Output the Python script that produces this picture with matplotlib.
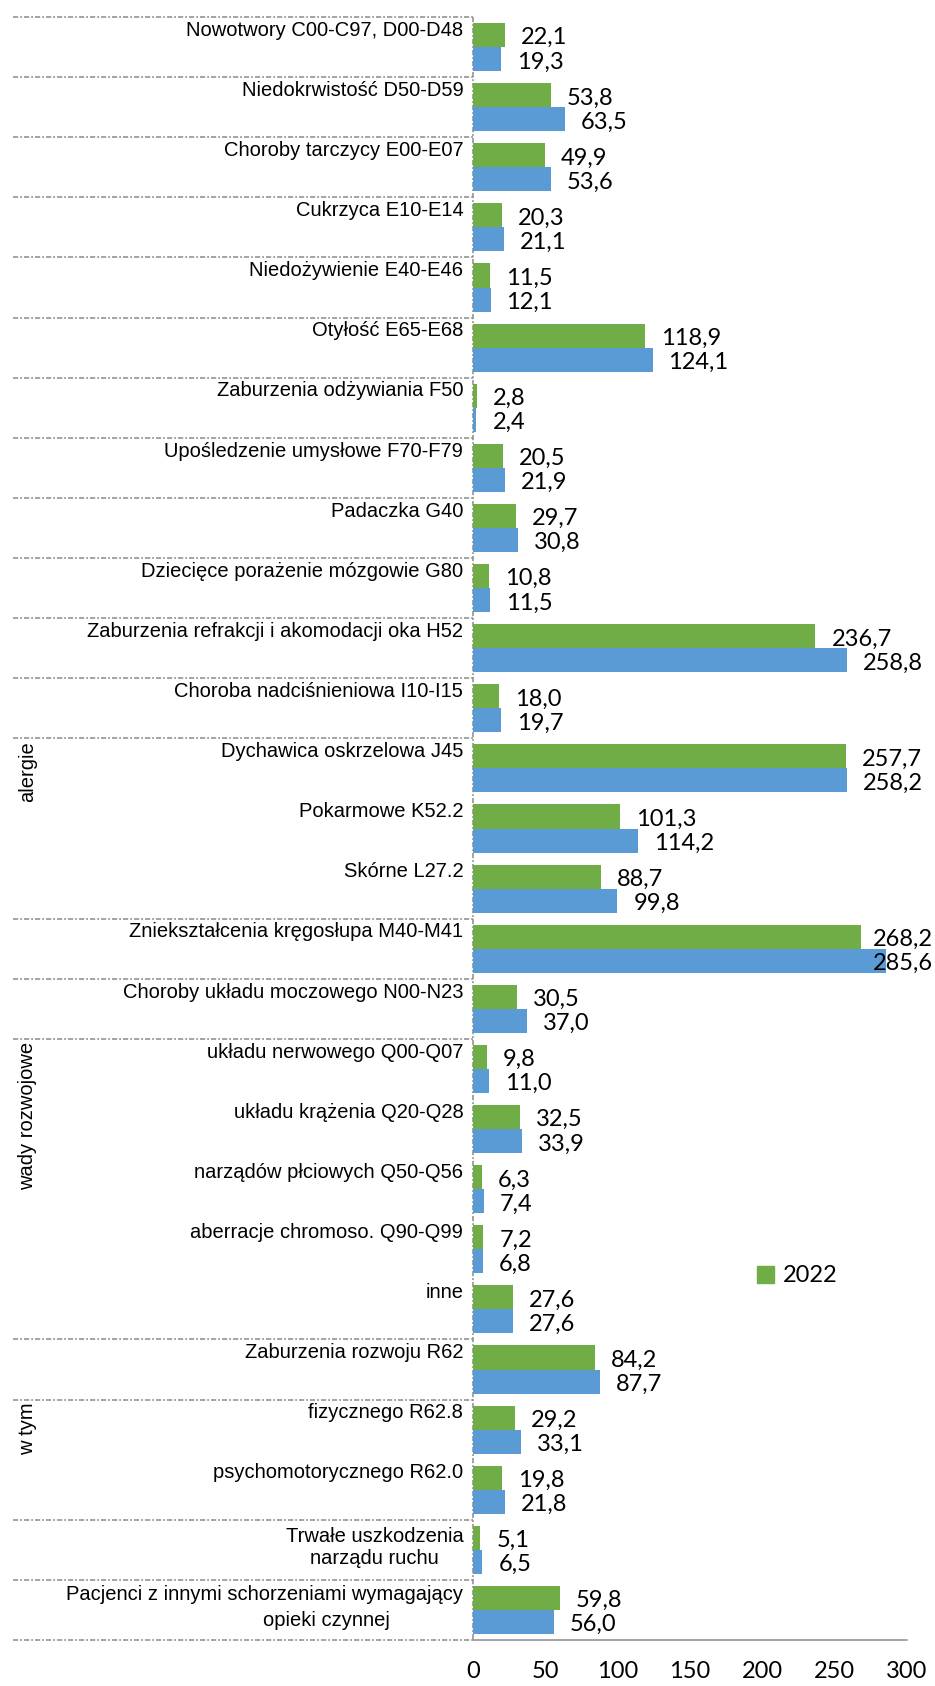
import matplotlib
matplotlib.use("Agg")
import matplotlib.pyplot as plt
from matplotlib.transforms import blended_transform_factory
from matplotlib.patches import Patch

# ---------------- data ----------------
categories = [
    "Nowotwory C00-C97, D00-D48",
    "Niedokrwistość D50-D59",
    "Choroby tarczycy E00-E07",
    "Cukrzyca E10-E14",
    "Niedożywienie E40-E46",
    "Otyłość E65-E68",
    "Zaburzenia odżywiania F50",
    "Upośledzenie umysłowe F70-F79",
    "Padaczka G40",
    "Dziecięce porażenie mózgowie G80",
    "Zaburzenia refrakcji i akomodacji oka H52",
    "Choroba nadciśnieniowa I10-I15",
    "Dychawica oskrzelowa J45",
    "Pokarmowe K52.2",
    "Skórne L27.2",
    "Zniekształcenia kręgosłupa M40-M41",
    "Choroby układu moczowego N00-N23",
    "układu nerwowego Q00-Q07",
    "układu krążenia Q20-Q28",
    "narządów płciowych Q50-Q56",
    "aberracje chromoso. Q90-Q99",
    "inne",
    "Zaburzenia rozwoju R62",
    "fizycznego R62.8",
    "psychomotorycznego R62.0",
    "Trwałe uszkodzenia\nnarządu ruchu",
    "Pacjenci z innymi schorzeniami wymagający\nopieki czynnej",
]
values_2022 = [22.1, 53.8, 49.9, 20.3, 11.5, 118.9, 2.8, 20.5, 29.7, 10.8,
               236.7, 18.0, 257.7, 101.3, 88.7, 268.2, 30.5, 9.8, 32.5, 6.3,
               7.2, 27.6, 84.2, 29.2, 19.8, 5.1, 59.8]
values_2021 = [19.3, 63.5, 53.6, 21.1, 12.1, 124.1, 2.4, 21.9, 30.8, 11.5,
               258.8, 19.7, 258.2, 114.2, 99.8, 285.6, 37.0, 11.0, 33.9, 7.4,
               6.8, 27.6, 87.7, 33.1, 21.8, 6.5, 56.0]
# groups: (label, first index, last index)
groups = [("alergie", 12, 14), ("wady rozwojowe", 17, 21), ("w tym", 23, 24)]
x_ticks = [0, 50, 100, 150, 200, 250, 300]
legend_label = "2022"

# ---------------- style ----------------
GREEN = "#70AD47"
BLUE = "#5B9BD5"
GREY = "#8C8C8C"
LABEL_FONT = "Liberation Sans"
NUM_FONT = "Lato"
LABEL_SIZE = 14.5
NUM_SIZE = 17
DASHDOT = (0, (3.4, 1.3, 1.2, 1.3))

W, H = 935, 1686
fig = plt.figure(figsize=(W / 100, H / 100), dpi=100)
ax_left, ax_right, ax_top, ax_bottom = 473, 907, 17, 1640
ax = fig.add_axes([ax_left / W, 1 - ax_bottom / H,
                   (ax_right - ax_left) / W, (ax_bottom - ax_top) / H])

n = len(categories)
idx = list(range(n))
bar_h = 0.4
ax.barh([i - bar_h / 2 for i in idx], values_2022, height=bar_h, color=GREEN, zorder=3)
ax.barh([i + bar_h / 2 for i in idx], values_2021, height=bar_h, color=BLUE, zorder=3)

ax.set_xlim(x_ticks[0], x_ticks[-1])
ax.set_ylim(n - 0.5, -0.5)
ax.set_yticks([])
ax.set_xticks(x_ticks)
ax.set_xticklabels([str(t) for t in x_ticks], fontfamily=NUM_FONT, fontsize=NUM_SIZE)
ax.tick_params(axis="x", length=0, pad=15)

for s in ["top", "right"]:
    ax.spines[s].set_visible(False)
ax.spines["bottom"].set_color(GREY)
ax.spines["bottom"].set_linewidth(1.1)
ax.spines["left"].set_visible(False)

# left axis line (dash-dot)
ax.plot([0, 0], [-0.5, n - 0.5], color=GREY, lw=1.1, linestyle=DASHDOT, zorder=2,
        clip_on=False)

# separators
inner = set()
for _, a, b in groups:
    for k in range(a + 1, b + 1):
        inner.add(k)
trans = blended_transform_factory(ax.transAxes, ax.transData)
sep_x0 = (13 - ax_left) / (ax_right - ax_left)
for k in range(n + 1):
    if k in inner:
        continue
    ax.plot([sep_x0, 0], [k - 0.5, k - 0.5], transform=trans, color=GREY, lw=1.1,
            linestyle=DASHDOT, clip_on=False, zorder=2)

# category labels
for i, lab in enumerate(categories):
    if i == n - 1 and "\n" in lab:
        l1, l2 = lab.split("\n")
        ax.annotate(l1, xy=(0, i - 0.04), xytext=(-7, 9.5), textcoords="offset points",
                    ha="right", va="center", fontfamily=LABEL_FONT, fontsize=LABEL_SIZE)
        ax.annotate(l2, xy=(0, i - 0.04), xytext=(-60, -9.5), textcoords="offset points",
                    ha="right", va="center", fontfamily=LABEL_FONT, fontsize=LABEL_SIZE)
    elif "\n" in lab:
        ax.annotate(lab, xy=(0, i - 0.04), xytext=(-7, 0), textcoords="offset points",
                    ha="right", va="center", multialignment="center",
                    fontfamily=LABEL_FONT, fontsize=LABEL_SIZE, linespacing=1.2)
    else:
        ax.annotate(lab, xy=(0, i - 0.28), xytext=(-7, 0), textcoords="offset points",
                    ha="right", va="center", fontfamily=LABEL_FONT, fontsize=LABEL_SIZE)

# group labels
gx = (28 - ax_left) / (ax_right - ax_left)
for lab, a, b in groups:
    ax.annotate(lab, xy=(gx, a - 0.5), xycoords=trans, xytext=(0, -2),
                textcoords="offset points", rotation=90, ha="center", va="top",
                fontfamily=LABEL_FONT, fontsize=LABEL_SIZE)

# value labels
def fmt(v):
    return f"{v:.1f}".replace(".", ",")

anns = []
for i in idx:
    for v, dy in ((values_2022[i], -bar_h / 2), (values_2021[i], bar_h / 2)):
        a = ax.annotate(fmt(v), xy=(v, i + dy), xytext=(11.5, -2), textcoords="offset points",
                        ha="left", va="center", fontfamily=NUM_FONT, fontsize=NUM_SIZE,
                        zorder=5, annotation_clip=False)
        anns.append(a)

fig.canvas.draw()
r = fig.canvas.get_renderer()
for a in anns:
    bb = a.get_window_extent(r)
    if bb.x1 > W - 2:
        shift = (bb.x1 - (W - 2)) * 72 / 100
        x, y = a.xyann
        a.xyann = (x - shift, y)

# legend
fig.legend(handles=[Patch(color=GREEN, label=legend_label)], loc="center left",
           bbox_to_anchor=(757 / W, 1 - 1276 / H), frameon=False, borderpad=0,
           borderaxespad=0, handlelength=0.7, handleheight=0.7, handletextpad=0.4,
           prop={"family": NUM_FONT, "size": NUM_SIZE})

fig.savefig("out.png", dpi=100)
